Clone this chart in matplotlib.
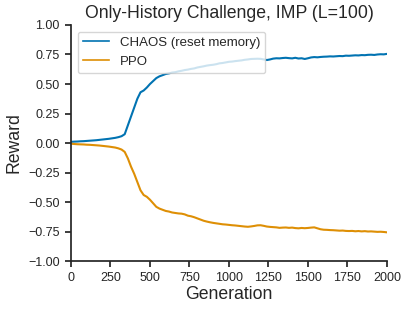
import numpy as np
import matplotlib
matplotlib.use("Agg")
import matplotlib.pyplot as plt

generations = list(range(0, 2001, 20))

chaos = [0.010, 0.012, 0.013, 0.015, 0.016, 0.018, 0.020, 0.022, 0.024, 0.027,
         0.030, 0.033, 0.036, 0.040, 0.044, 0.050, 0.058, 0.075, 0.150, 0.225,
         0.300, 0.375, 0.430, 0.445, 0.470, 0.500, 0.525, 0.550, 0.565, 0.575,
         0.585, 0.590, 0.597, 0.600, 0.607, 0.612, 0.618, 0.622, 0.628, 0.632,
         0.640, 0.645, 0.650, 0.656, 0.660, 0.663, 0.668, 0.675, 0.678, 0.683,
         0.688, 0.690, 0.694, 0.697, 0.700, 0.705, 0.708, 0.712, 0.713, 0.714,
         0.713, 0.708, 0.703, 0.708, 0.715, 0.718, 0.717, 0.720, 0.722, 0.719,
         0.717, 0.722, 0.716, 0.718, 0.712, 0.718, 0.725, 0.728, 0.726, 0.729,
         0.731, 0.732, 0.734, 0.733, 0.735, 0.737, 0.736, 0.740, 0.739, 0.741,
         0.743, 0.742, 0.745, 0.744, 0.747, 0.748, 0.746, 0.750, 0.752, 0.751,
         0.755]

ppo = [-0.005, -0.008, -0.010, -0.011, -0.012, -0.014, -0.015, -0.017, -0.019, -0.021,
       -0.024, -0.027, -0.030, -0.034, -0.038, -0.045, -0.055, -0.075, -0.130, -0.200,
       -0.260, -0.330, -0.400, -0.440, -0.455, -0.480, -0.510, -0.540, -0.555, -0.565,
       -0.575, -0.580, -0.588, -0.592, -0.596, -0.598, -0.604, -0.615, -0.620, -0.628,
       -0.638, -0.648, -0.658, -0.665, -0.671, -0.676, -0.680, -0.684, -0.688, -0.690,
       -0.693, -0.696, -0.698, -0.701, -0.704, -0.707, -0.709, -0.706, -0.702, -0.697,
       -0.696, -0.701, -0.707, -0.710, -0.712, -0.714, -0.718, -0.716, -0.715, -0.718,
       -0.716, -0.720, -0.722, -0.719, -0.721, -0.719, -0.716, -0.714, -0.722, -0.730,
       -0.734, -0.735, -0.737, -0.738, -0.740, -0.742, -0.741, -0.744, -0.745, -0.744,
       -0.747, -0.745, -0.748, -0.746, -0.749, -0.748, -0.750, -0.752, -0.751, -0.753,
       -0.756]

series_labels = ["CHAOS (reset memory)", "PPO"]
colors = ["#0173b2", "#de8f05"]
x_ticks = [0, 250, 500, 750, 1000, 1250, 1500, 1750, 2000]
y_ticks = [-1.00, -0.75, -0.50, -0.25, 0.00, 0.25, 0.50, 0.75, 1.00]

plt.rcParams['font.family'] = ['Liberation Sans', 'DejaVu Sans']
plt.rcParams['text.color'] = '.15'
plt.rcParams['axes.labelcolor'] = '.15'
plt.rcParams['xtick.color'] = '.15'
plt.rcParams['ytick.color'] = '.15'
plt.rcParams['axes.edgecolor'] = '.15'

fig = plt.figure(figsize=(4.09, 3.12), dpi=100)
ax = fig.add_axes([0.1736, 0.163, 0.946 - 0.1736, 0.92 - 0.163])

ax.plot(generations, chaos, color=colors[0], lw=1.5, label=series_labels[0])
ax.plot(generations, ppo, color=colors[1], lw=1.5, label=series_labels[1])

ax.set_xlim(0, 2000)
ax.set_ylim(-1, 1)
ax.set_xticks(x_ticks)
ax.set_xticklabels([str(t) for t in x_ticks])
ax.set_yticks(y_ticks)
ax.set_yticklabels([f"{t:.2f}".replace("-", "\u2212") for t in y_ticks])
ax.tick_params(labelsize=9, direction='out', length=4.5, width=1.25)
for s in ['top', 'right']:
    ax.spines[s].set_visible(False)
for s in ['left', 'bottom']:
    ax.spines[s].set_linewidth(1.25)

ax.set_xlabel("Generation", fontsize=12.7, labelpad=1)
ax.set_ylabel("Reward", fontsize=12.7)
ax.set_title("Only-History Challenge, IMP (L=100)", fontsize=12.7, pad=5)
leg = ax.legend(loc='upper left', fontsize=9.5, framealpha=0.8, edgecolor='0.8')
for h in leg.get_lines():
    h.set_linewidth(1.2)

fig.savefig("out.png", dpi=100)
